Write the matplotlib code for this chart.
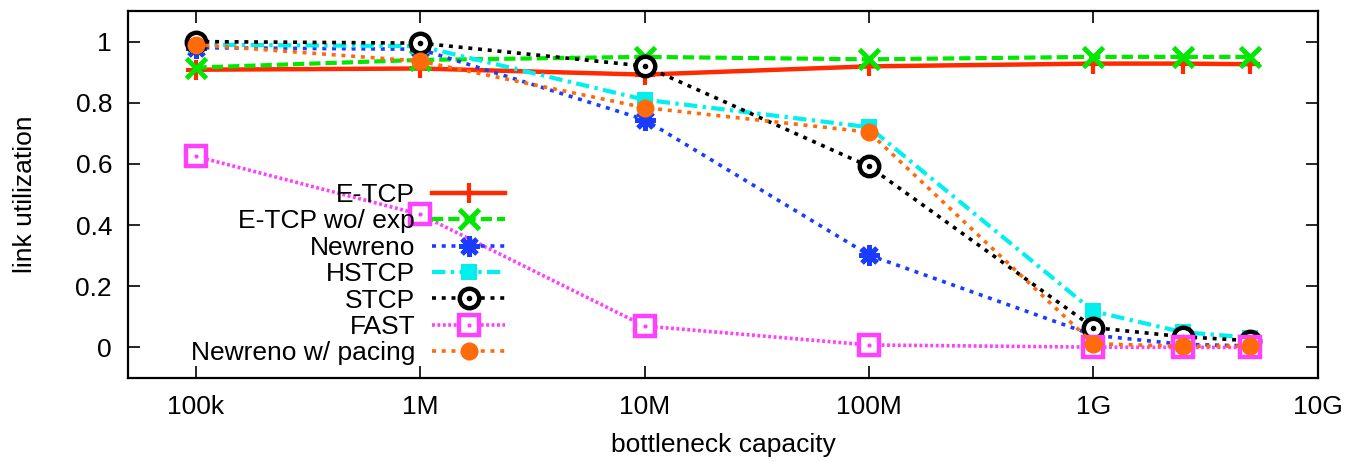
import matplotlib
matplotlib.use("Agg")
import matplotlib.pyplot as plt
from matplotlib.ticker import FixedLocator, FixedFormatter, NullLocator
from matplotlib.legend_handler import HandlerTuple

plt.rcParams['font.family'] = ['Liberation Sans', 'DejaVu Sans']

capacity = [1e5, 1e6, 1e7, 1e8, 1e9, 2.5e9, 5e9]

etcp = [0.908, 0.912, 0.892, 0.919, 0.928, 0.928, 0.926]
etcp_noexp = [0.915, 0.940, 0.950, 0.942, 0.950, 0.950, 0.950]
newreno = [0.980, 0.975, 0.745, 0.302, 0.040, 0.010, 0.005]
hstcp = [0.990, 0.985, 0.810, 0.720, 0.118, 0.050, 0.032]
stcp = [1.000, 0.995, 0.920, 0.592, 0.065, 0.035, 0.022]
fast = [0.625, 0.435, 0.070, 0.008, 0.001, 0.000, 0.000]
newreno_pacing = [0.990, 0.936, 0.784, 0.704, 0.012, 0.004, 0.004]

xticks = [1e5, 1e6, 1e7, 1e8, 1e9, 1e10]
xtick_labels = ["100k", "1M", "10M", "100M", "1G", "10G"]
yticks = [0, 0.2, 0.4, 0.6, 0.8, 1]
ytick_labels = ["0", "0.2", "0.4", "0.6", "0.8", "1"]

fig = plt.figure(figsize=(13.59, 4.62), dpi=100)
ax = fig.add_axes([0.0942, 0.1818, 0.8756, 0.7944])

h1, = ax.plot(capacity, etcp, color='#ff2a00', lw=3.2, ls='-',
              marker='+', ms=15, mew=3, label='E-TCP')
h2, = ax.plot(capacity, etcp_noexp, color='#00e800', lw=3, ls=(0, (2.7, 1.2)),
              marker='x', ms=14, mew=3.5, label='E-TCP wo/ exp')
h3, = ax.plot(capacity, newreno, color='#1a3cff', lw=2.6, ls=(0, (1.1, 1.6)),
              marker=(8, 2, 0), ms=15, mew=3.5, label='Newreno')
h4, = ax.plot(capacity, hstcp, color='#00f0f0', lw=3, ls=(0, (3.2, 1.3, 0.8, 1.3)),
              marker='s', ms=12, mew=0, label='HSTCP')
h5, = ax.plot(capacity, stcp, color='black', lw=2.6, ls=(0, (1.1, 1.6)),
              marker='o', ms=14, mfc='white', mew=3.2, label='STCP')
h5d, = ax.plot(capacity, stcp, color='black', ls='none', marker='o', ms=4, mew=0)
h6, = ax.plot(capacity, fast, color='#ff40ff', lw=2.6, ls=(0, (0.8, 0.7)),
              marker='s', ms=15, mfc='white', mew=3.2, label='FAST')
h6d, = ax.plot(capacity, fast, color='#ff40ff', ls='none', marker='o', ms=3, mew=0)
h7, = ax.plot(capacity, newreno_pacing, color='#ff6a0a', lw=2.6, ls=(0, (1.1, 1.6)),
              marker='o', ms=13, mew=0, label='Newreno w/ pacing')

ax.set_xscale('log')
ax.set_xlim(5e4, 1e10)
ax.set_ylim(-0.1, 1.1)
ax.xaxis.set_major_locator(FixedLocator(xticks))
ax.xaxis.set_major_formatter(FixedFormatter(xtick_labels))
ax.xaxis.set_minor_locator(NullLocator())
ax.yaxis.set_major_locator(FixedLocator(yticks))
ax.yaxis.set_major_formatter(FixedFormatter(ytick_labels))

ax.tick_params(direction='in', length=8.5, width=1.2, labelsize=19,
               top=True, right=True)
ax.tick_params(axis='y', pad=11.5)
ax.tick_params(axis='x', pad=12)
for s in ax.spines.values():
    s.set_linewidth(1.6)

ax.set_xlabel("bottleneck capacity", fontsize=19, labelpad=10)
ax.set_ylabel("link utilization", fontsize=19, labelpad=28)

leg = ax.legend([h1, h2, h3, h4, (h5, h5d), (h6, h6d), h7],
                ['E-TCP', 'E-TCP wo/ exp', 'Newreno', 'HSTCP', 'STCP', 'FAST',
                 'Newreno w/ pacing'],
                handler_map={tuple: HandlerTuple(ndivide=1)},
                loc='upper right', bbox_to_anchor=(0.317, 0.531),
                frameon=False, markerfirst=False, numpoints=1,
                fontsize=19, handlelength=2.77, handletextpad=0.64,
                labelspacing=0.09, borderpad=0, borderaxespad=0)

fig.savefig("out.png", dpi=100)
